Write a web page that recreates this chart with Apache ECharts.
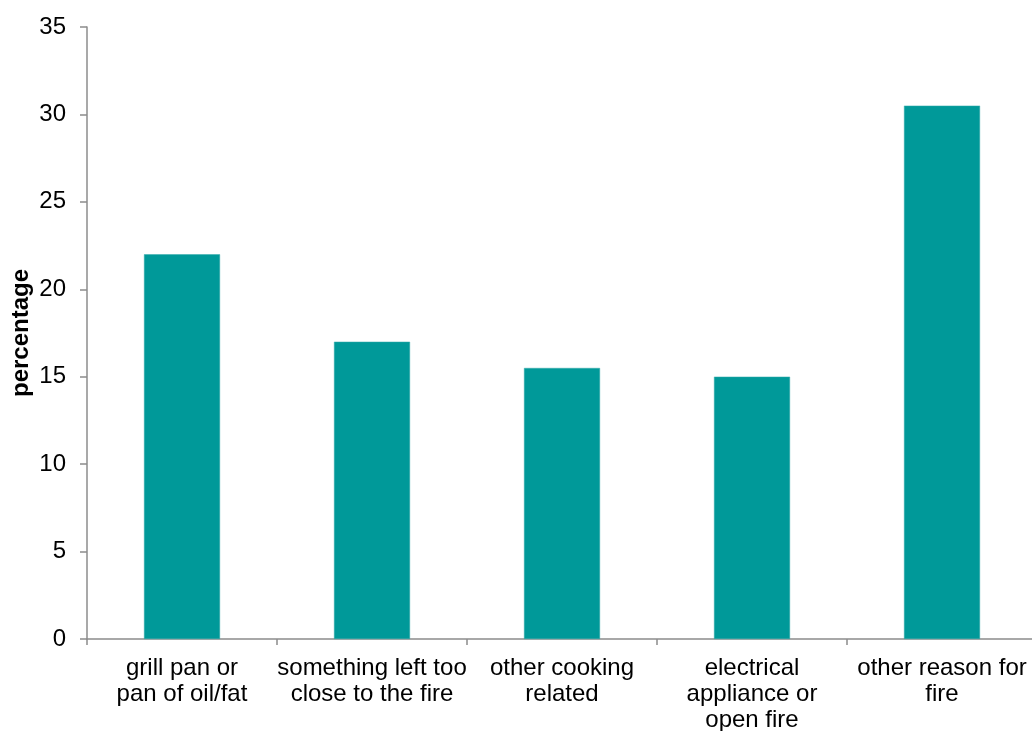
<!DOCTYPE html>
<html>
<head>
<meta charset="utf-8">
<script src="https://cdn.jsdelivr.net/npm/echarts@6/dist/echarts.min.js"></script>
<style>
  html, body { margin: 0; padding: 0; background: #ffffff; overflow: hidden; }
  #chart { width: 1032px; height: 731px; }
</style>
</head>
<body>
<div id="chart"></div>
<script>
// Causes of fire, share of incidents
const categories = [
  'grill pan or\npan of oil/fat',
  'something left too\nclose to the fire',
  'other cooking\nrelated',
  'electrical\nappliance or\nopen fire',
  'other reason for\nfire'
];
const percentages = [22.0, 17.0, 15.5, 15.0, 30.5];
const axisName = 'percentage';

const FONT = 'Liberation Sans, Arial, sans-serif';
const AXIS_GREY = '#8c8c8c';

const chart = echarts.init(document.getElementById('chart'), null, { renderer: 'canvas' });
chart.setOption({
  animation: false,
  backgroundColor: '#ffffff',
  // plot runs slightly past the right edge of the canvas
  grid: {
    left: 87, width: 950, top: 27, bottom: 92,
    containLabel: false,
    outerBoundsMode: 'none'
  },
  xAxis: {
    type: 'category',
    data: categories,
    axisLine: { show: true, lineStyle: { color: AXIS_GREY, width: 1.5 } },
    axisTick: { show: true, length: 6, alignWithLabel: false, lineStyle: { color: AXIS_GREY, width: 1.5 } },
    axisLabel: {
      interval: 0,
      margin: 16,
      color: '#000000',
      fontFamily: FONT,
      fontSize: 24,
      lineHeight: 26,
      align: 'center'
    }
  },
  yAxis: {
    type: 'value',
    min: 0,
    max: 35,
    interval: 5,
    name: axisName,
    nameLocation: 'middle',
    nameRotate: 90,
    nameGap: 54,
    nameMoveOverlap: false,
    nameTextStyle: { color: '#000000', fontFamily: FONT, fontSize: 24, fontWeight: 'bold' },
    splitLine: { show: false },
    axisLine: { show: true, lineStyle: { color: AXIS_GREY, width: 1.5 } },
    axisTick: { show: true, length: 7, inside: false, lineStyle: { color: AXIS_GREY, width: 1.5 } },
    axisLabel: {
      margin: 21,
      color: '#000000',
      fontFamily: FONT,
      fontSize: 24
    }
  },
  series: [{
    type: 'bar',
    data: percentages,
    barCategoryGap: '60%',
    itemStyle: { color: '#009999', borderColor: '#33aaaa', borderWidth: 0.5 }
  }]
});
</script>
</body>
</html>
